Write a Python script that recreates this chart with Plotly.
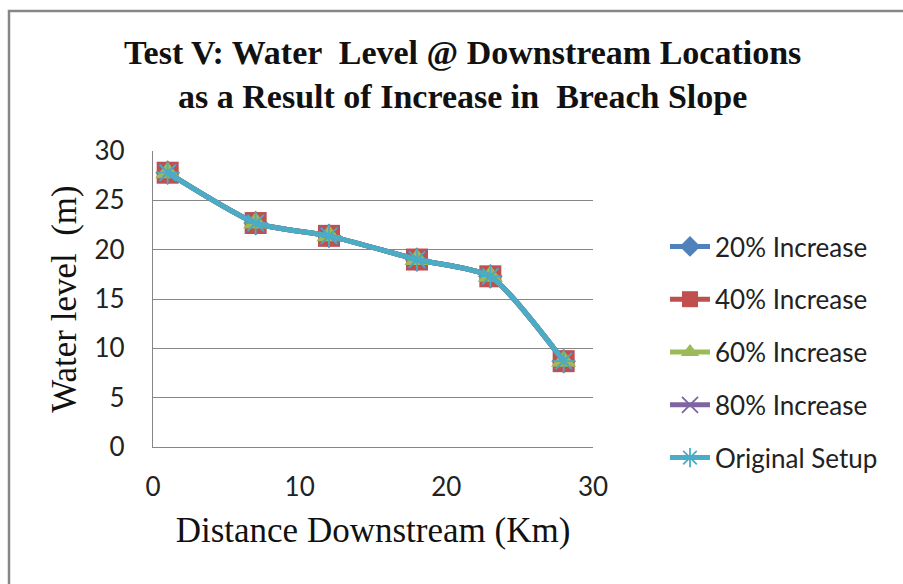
import plotly.graph_objects as go

# Distance downstream of the dam (km) and simulated water levels (m)
distance_km = [1, 7, 12, 18, 23, 28]
level_20 = [27.8, 22.7, 21.4, 19.0, 17.3, 8.7]
level_40 = [27.8, 22.7, 21.4, 19.0, 17.3, 8.7]
level_60 = [27.8, 22.7, 21.4, 19.0, 17.3, 8.7]
level_80 = [27.8, 22.7, 21.4, 19.0, 17.3, 8.7]
level_orig = [27.8, 22.7, 21.4, 19.0, 17.3, 8.7]

series_names = ["20% Increase", "40% Increase", "60% Increase", "80% Increase", "Original Setup"]
series_values = [level_20, level_40, level_60, level_80, level_orig]
colors = ["#4F81BD", "#C0504D", "#9BBB59", "#8064A2", "#4BACC6"]
symbols = ["diamond", "square", "triangle-up", "x-thin", "asterisk"]
sizes = [19, 22, 22, 19, 19]

W, H = 903, 584
L, R, T, B = 153, 310, 151, 137

fig = go.Figure()
for i, (name, vals) in enumerate(zip(series_names, series_values)):
    thin = symbols[i] in ("x-thin", "asterisk")
    fig.add_trace(go.Scatter(
        x=distance_km, y=vals, name=name, mode="lines+markers",
        line=dict(color=colors[i], width=5, shape="spline", smoothing=0.6),
        marker=dict(symbol=symbols[i], size=sizes[i], color=colors[i],
                    line=dict(color=colors[i], width=1.8 if thin else 0)),
        legendgroup=name,
    ))

def px_x(p):
    return (p - L) / (W - L - R)

def px_y(p):
    return (H - B - p) / (H - T - B)

serif = "Liberation Serif"
sans = "Lato"

fig.update_layout(
    width=W, height=H,
    margin=dict(l=L, r=R, t=T, b=B, pad=0),
    paper_bgcolor="white", plot_bgcolor="white",
    showlegend=True,
    legend=dict(x=px_x(665), y=px_y(223), xanchor="left", yanchor="top",
                font=dict(family=sans, size=26, color="#222"),
                tracegroupgap=16, itemwidth=40,
                bgcolor="rgba(0,0,0,0)"),
    xaxis=dict(range=[0, 30], tickvals=[0, 10, 20, 30], showgrid=False,
               showline=True, linecolor="#868686", linewidth=1.3,
               ticks="", tickfont=dict(family=sans, size=26, color="#222"),
               ticklabelstandoff=17,
               title=dict(text="Distance Downstream (Km)",
                          font=dict(family=serif, size=35, color="#111"), standoff=16),
               zeroline=False, fixedrange=True),
    yaxis=dict(range=[0, 30], tickvals=[0, 5, 10, 15, 20, 25, 30], showgrid=True,
               gridcolor="#868686", gridwidth=1.3, showline=True,
               linecolor="#868686", linewidth=1.3, ticks="",
               tickfont=dict(family=sans, size=26, color="#222"),
               ticklabelstandoff=22,
               title=dict(text="Water level  (m)",
                          font=dict(family=serif, size=35, color="#111"), standoff=7),
               zeroline=False, fixedrange=True),
    annotations=[dict(
        text="<b>Test V: Water  Level @ Downstream Locations<br>as a Result of Increase in  Breach Slope</b>",
        x=px_x(462), y=px_y(75), xref="paper", yref="paper",
        xanchor="center", yanchor="middle", showarrow=False, align="center",
        font=dict(family=serif, size=34, color="#111"),
    )],
    shapes=[dict(type="rect", xref="paper", yref="paper",
                 x0=px_x(9), x1=px_x(920), y0=px_y(600), y1=px_y(11),
                 line=dict(color="#868686", width=2.5), fillcolor="rgba(0,0,0,0)",
                 layer="below")],
)

fig.write_html("out.html")
